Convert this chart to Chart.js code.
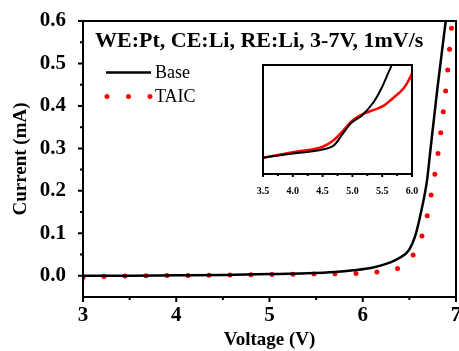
<!DOCTYPE html>
<html>
<head>
<meta charset="utf-8">
<script src="https://cdn.jsdelivr.net/npm/chart.js@4.4.0/dist/chart.umd.min.js"></script>
<style>
  body { margin: 0; background: #fff; }
  #wrap { position: relative; width: 459px; height: 351px; }
  #inset { position: absolute; left: 250px; top: 55px; }
</style>
</head>
<body>
<div id="wrap">
  <canvas id="myChart" width="459" height="351"></canvas>
  <canvas id="inset" width="180" height="140"></canvas>
</div>
<script>
// main plot: voltage (V) vs current (mA)
const baseV = [3.0, 3.5, 4.0, 4.5, 5.0, 5.4, 5.7, 5.9, 6.1, 6.25, 6.35, 6.45, 6.5, 6.56, 6.63, 6.69, 6.72, 6.80, 6.89];
const baseI = [0.000, 0.000, 0.001, 0.002, 0.004, 0.006, 0.009, 0.013, 0.019, 0.028, 0.037, 0.050, 0.062, 0.092, 0.155, 0.226, 0.285, 0.44, 0.60];
const taicV = [3.0, 3.3, 3.7, 4.2, 4.7, 5.0, 5.4, 5.63, 5.86, 6.08, 6.29, 6.43, 6.58, 6.66, 6.71, 6.75, 6.79, 6.82, 6.85, 6.875, 6.90, 6.92, 6.94, 6.96];
const taicI = [-0.004, -0.001, 0.000, 0.001, 0.002, 0.003, 0.004, 0.005, 0.005, 0.008, 0.012, 0.024, 0.064, 0.112, 0.162, 0.212, 0.26, 0.31, 0.36, 0.41, 0.457, 0.506, 0.558, 0.60];

// inset: zoom on 3.5-6.0 V
const insetBaseV = [3.5, 4.0, 4.5, 4.69, 4.83, 4.97, 5.16, 5.36, 5.5, 5.61, 5.66, 5.7];
const insetBaseI = [0.0012, 0.0015, 0.0018, 0.0021, 0.0029, 0.0037, 0.0043, 0.0053, 0.0064, 0.0075, 0.0080, 0.0086];
const insetTaicV = [3.5, 4.0, 4.5, 4.69, 4.85, 4.97, 5.13, 5.36, 5.52, 5.69, 5.86, 5.96, 6.0];
const insetTaicI = [0.0012, 0.0016, 0.0020, 0.0025, 0.0032, 0.0038, 0.0043, 0.0047, 0.0050, 0.0056, 0.0063, 0.0070, 0.0074];

const xTicks = [3, 4, 5, 6, 7];
const xMinor = [3.5, 4.5, 5.5, 6.5];
const yTicks = [0.0, 0.1, 0.2, 0.3, 0.4, 0.5, 0.6];
const yMinor = [0.05, 0.15, 0.25, 0.35, 0.45, 0.55];
const insetTicks = [3.5, 4.0, 4.5, 5.0, 5.5, 6.0];
const insetMinor = [3.75, 4.25, 4.75, 5.25, 5.75];
const seriesNames = ['Base', 'TAIC'];
const titleText = 'WE:Pt, CE:Li, RE:Li, 3-7V, 1mV/s';

const serif = '"Liberation Serif", "Times New Roman", serif';
const toPoints = (xs, ys) => xs.map((x, i) => ({x: x, y: ys[i]}));

// box around the plot + outward ticks
const framePlugin = {
  id: 'frame',
  afterDraw(chart, args, opts) {
    const ctx = chart.ctx;
    const a = chart.chartArea;
    const xs = chart.scales.x, ys = chart.scales.y;
    ctx.save();
    ctx.strokeStyle = '#000';
    ctx.lineWidth = opts.lineWidth;
    ctx.strokeRect(a.left, a.top, a.right - a.left, a.bottom - a.top);
    ctx.beginPath();
    (opts.xMajor || []).forEach(v => {
      const px = xs.getPixelForValue(v);
      ctx.moveTo(px, a.bottom); ctx.lineTo(px, a.bottom + opts.major);
    });
    (opts.xMinor || []).forEach(v => {
      const px = xs.getPixelForValue(v);
      ctx.moveTo(px, a.bottom); ctx.lineTo(px, a.bottom + opts.minor);
    });
    (opts.yMajor || []).forEach(v => {
      const py = ys.getPixelForValue(v);
      ctx.moveTo(a.left, py); ctx.lineTo(a.left - opts.major, py);
    });
    (opts.yMinor || []).forEach(v => {
      const py = ys.getPixelForValue(v);
      ctx.moveTo(a.left, py); ctx.lineTo(a.left - opts.minor, py);
    });
    ctx.stroke();
    ctx.restore();
  }
};

// title text and legend inside the main plot
const notePlugin = {
  id: 'note',
  afterDraw(chart) {
    const ctx = chart.ctx;
    ctx.save();
    ctx.fillStyle = '#000';
    ctx.textBaseline = 'middle';
    ctx.textAlign = 'left';
    ctx.font = 'bold 22px ' + serif;
    ctx.fillText(titleText, 95, 41);

    ctx.strokeStyle = '#000';
    ctx.lineWidth = 2.5;
    ctx.beginPath();
    ctx.moveTo(106, 72.5); ctx.lineTo(151, 72.5);
    ctx.stroke();

    ctx.strokeStyle = '#ff0000';
    ctx.lineWidth = 5;
    ctx.lineCap = 'round';
    ctx.setLineDash([0, 21.5]);
    ctx.beginPath();
    ctx.moveTo(107, 96.5); ctx.lineTo(151, 96.5);
    ctx.stroke();
    ctx.setLineDash([]);

    ctx.font = '18px ' + serif;
    ctx.fillText(seriesNames[0], 155, 73);
    ctx.fillText(seriesNames[1], 155, 97);
    ctx.restore();
  }
};

const mainChart = new Chart(document.getElementById('myChart'), {
  type: 'line',
  data: {
    datasets: [{
      label: seriesNames[0],
      data: toPoints(baseV, baseI),
      borderColor: '#000',
      borderWidth: 2.5,
      pointRadius: 0,
      cubicInterpolationMode: 'monotone'
    }, {
      label: seriesNames[1],
      data: toPoints(taicV, taicI),
      borderColor: '#ff0000',
      borderWidth: 5,
      borderDash: [0, 21],
      borderCapStyle: 'round',
      pointRadius: 0,
      cubicInterpolationMode: 'monotone'
    }]
  },
  options: {
    responsive: false,
    animation: false,
    layout: { padding: { top: 21, right: 3, left: 0, bottom: 0 } },
    plugins: {
      legend: { display: false },
      tooltip: { enabled: false },
      frame: { lineWidth: 2, major: 5, minor: 3, xMajor: xTicks, xMinor: xMinor, yMajor: yTicks, yMinor: yMinor }
    },
    scales: {
      x: {
        type: 'linear',
        min: 3,
        max: 7,
        grid: { display: false },
        border: { display: false },
        afterBuildTicks: (scale) => { scale.ticks = xTicks.map(v => ({value: v})); },
        afterFit: (scale) => { scale.height = 54; scale.paddingLeft = 0; scale.paddingRight = 0; },
        ticks: {
          autoSkip: false,
          maxRotation: 0,
          padding: -2,
          color: '#000',
          font: { family: serif, size: 21, weight: 'bold' },
          callback: (v) => String(v)
        },
        title: {
          display: true,
          text: 'Voltage (V)',
          color: '#000',
          padding: { top: 0, bottom: 0 },
          font: { family: serif, size: 19, weight: 'bold' }
        }
      },
      y: {
        min: -0.05,
        max: 0.6,
        grid: { display: false },
        border: { display: false },
        afterBuildTicks: (scale) => { scale.ticks = yTicks.map(v => ({value: v})); },
        afterFit: (scale) => { scale.width = 83; scale.paddingTop = 0; scale.paddingBottom = 0; },
        ticks: {
          autoSkip: false,
          padding: 9,
          color: '#000',
          font: { family: serif, size: 21, weight: 'bold' },
          callback: (v) => v.toFixed(1)
        },
        title: {
          display: true,
          text: 'Current (mA)',
          color: '#000',
          padding: { top: 10, bottom: 0 },
          font: { family: serif, size: 19, weight: 'bold' }
        }
      }
    }
  },
  plugins: [framePlugin, notePlugin]
});

const insetChart = new Chart(document.getElementById('inset'), {
  type: 'line',
  data: {
    datasets: [{
      label: seriesNames[0],
      data: toPoints(insetBaseV, insetBaseI),
      borderColor: '#000',
      borderWidth: 2,
      pointRadius: 0,
      cubicInterpolationMode: 'monotone'
    }, {
      label: seriesNames[1],
      data: toPoints(insetTaicV, insetTaicI),
      borderColor: '#ff0000',
      borderWidth: 2.5,
      pointRadius: 0,
      cubicInterpolationMode: 'monotone'
    }]
  },
  options: {
    responsive: false,
    animation: false,
    layout: { padding: { top: 10, right: 18, left: 13, bottom: 0 } },
    plugins: {
      legend: { display: false },
      tooltip: { enabled: false },
      frame: { lineWidth: 2, major: 3, minor: 2, xMajor: insetTicks, xMinor: insetMinor }
    },
    scales: {
      x: {
        type: 'linear',
        min: 3.5,
        max: 6.0,
        grid: { display: false },
        border: { display: false },
        afterBuildTicks: (scale) => { scale.ticks = insetTicks.map(v => ({value: v})); },
        afterFit: (scale) => { scale.height = 21; scale.paddingLeft = 0; scale.paddingRight = 0; },
        ticks: {
          autoSkip: false,
          maxRotation: 0,
          padding: 3,
          color: '#000',
          font: { family: serif, size: 10, weight: 'bold' },
          callback: (v) => v.toFixed(1)
        }
      },
      y: {
        display: false,
        min: 0,
        max: 0.008
      }
    }
  },
  plugins: [framePlugin]
});
</script>
</body>
</html>
